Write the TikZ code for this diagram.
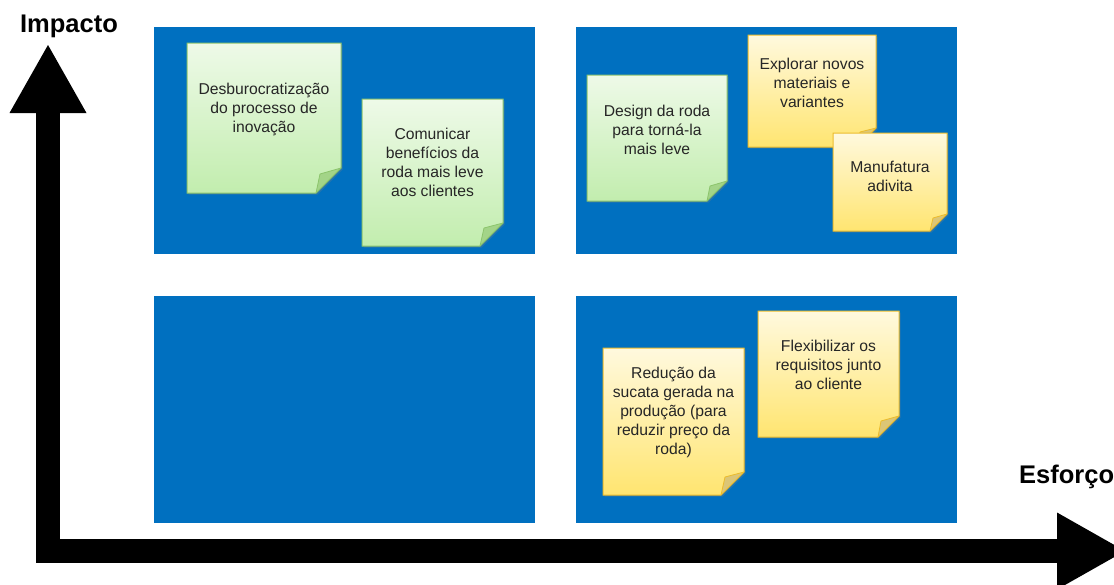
\documentclass[tikz,border=0pt]{standalone}
\usepackage{fontspec}
\setmainfont{Liberation Sans}
\usetikzlibrary{arrows.meta,shadows}

\definecolor{quadblue}{HTML}{0070C0}
\definecolor{greentop}{HTML}{EEFAE8}
\definecolor{greenbot}{HTML}{C2EDAE}
\definecolor{greenline}{HTML}{8CC46C}
\definecolor{greenfoldfill}{HTML}{A3D488}
\definecolor{yellowtop}{HTML}{FFF9DE}
\definecolor{yellowbot}{HTML}{FFE570}
\definecolor{yellowline}{HTML}{ECBC2C}
\definecolor{yellowfoldfill}{HTML}{DCC676}

\begin{document}
\begin{tikzpicture}[x=1pt,y=-1pt,
    quad/.style={fill=quadblue,minimum width=381pt,minimum height=227pt,inner sep=0pt},
    greennote/.style={top color=greentop,bottom color=greenbot,draw=greenline,line width=1pt,
      drop shadow={shadow xshift=1.5pt,shadow yshift=-1.5pt,opacity=0.3}},
    yellownote/.style={top color=yellowtop,bottom color=yellowbot,draw=yellowline,line width=1pt,
      drop shadow={shadow xshift=1.5pt,shadow yshift=-1.5pt,opacity=0.3}},
    greenfold/.style={fill=greenfoldfill,draw=greenline,line width=0.8pt,line join=round},
    yellowfold/.style={fill=yellowfoldfill,draw=yellowline,line width=0.8pt,line join=round},
    notetext/.style={anchor=north,inner sep=0pt,align=center,text=black!85,
      font=\fontsize{15.7pt}{19pt}\selectfont},
    axislabel/.style={inner sep=0pt,font=\fontsize{25.5pt}{30pt}\selectfont\bfseries},
    axis/.style={line width=24pt,
      {Triangle[width=77pt,length=68pt,line width=0pt]}-{Triangle[width=77pt,length=68pt,line width=0pt]}}]
  \useasboundingbox (0,0) rectangle (1114,584);
  \clip (0,0) rectangle (1114,584);

  \node[quad] (hilo) at (344.5,140.5) {};
  \node[quad] (hihi) at (766.5,140.5) {};
  \node[quad] (lolo) at (344.5,409.5) {};
  \node[quad] (lohi) at (766.5,409.5) {};

  \coordinate (origin) at (48,551);
  \coordinate (impacto) at (48,45);
  \coordinate (esforco) at (1125,551);
  \draw[axis] (impacto) -- (origin) -- (esforco);
  \node[axislabel,anchor=base] (impactolabel) at (69,32) {Impacto};
  \node[axislabel,anchor=base west] (esforcolabel) at (1019,483) {Esforço};

  \path[greennote] (187,43) -- (341,43) -- (341,168) -- (316,193) -- (187,193) -- cycle;
  \path[greenfold] (341,168) -- (320,174) -- (316,193) -- cycle;
  \node[notetext] (desburocratizar) at (264,83) {Desburocratização\\do processo de\\inovação};

  \path[greennote] (362,99) -- (503,99) -- (503,223) -- (480,246) -- (362,246) -- cycle;
  \path[greenfold] (503,223) -- (484,228) -- (480,246) -- cycle;
  \node[notetext] (comunicar) at (432.5,128) {Comunicar\\benefícios da\\roda mais leve\\aos clientes};

  \path[greennote] (587,75) -- (727,75) -- (727,181) -- (707,201) -- (587,201) -- cycle;
  \path[greenfold] (727,181) -- (710,186) -- (707,201) -- cycle;
  \node[notetext] (design) at (657,105) {Design da roda\\para torná-la\\mais leve};

  \path[yellownote] (748,35) -- (876,35) -- (876,128) -- (857,147) -- (748,147) -- cycle;
  \path[yellowfold] (876,128) -- (860,132) -- (857,147) -- cycle;
  \node[notetext] (explorar) at (812,58) {Explorar novos\\materiais e\\variantes};

  \path[yellownote] (833,133) -- (947,133) -- (947,214) -- (930,231) -- (833,231) -- cycle;
  \path[yellowfold] (947,214) -- (933,218) -- (930,231) -- cycle;
  \node[notetext] (manufatura) at (890,161) {Manufatura\\adivita};

  \path[yellownote] (603,348) -- (744,348) -- (744,472) -- (721,495) -- (603,495) -- cycle;
  \path[yellowfold] (744,472) -- (725,477) -- (721,495) -- cycle;
  \node[notetext] (sucata) at (673.5,367) {Redução da\\sucata gerada na\\produção (para\\reduzir preço da\\roda)};

  \path[yellownote] (758,311) -- (899,311) -- (899,416) -- (878,437) -- (758,437) -- cycle;
  \path[yellowfold] (899,416) -- (881,421) -- (878,437) -- cycle;
  \node[notetext] (flexibilizar) at (828.5,340) {Flexibilizar os\\requisitos junto\\ao cliente};
\end{tikzpicture}
\end{document}
